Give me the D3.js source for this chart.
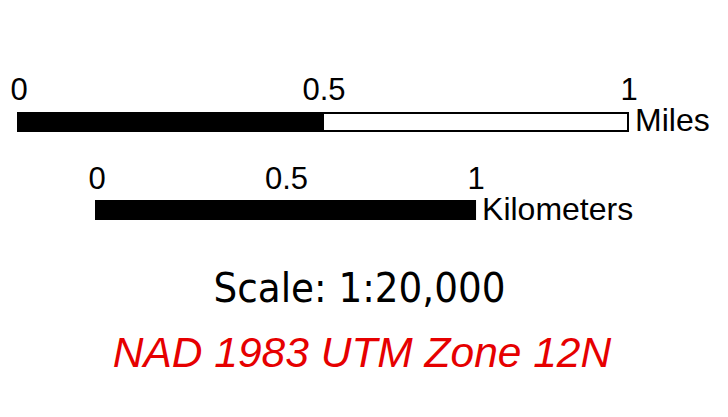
<!DOCTYPE html>
<html>
<head>
<meta charset="utf-8">
<script src="https://cdn.jsdelivr.net/npm/d3@7"></script>
<style>
  html, body { margin: 0; padding: 0; background: #fff; }
  svg { display: block; }
</style>
</head>
<body>
<svg id="chart" width="728" height="417"></svg>
<script>
// ---- data ----
const mileTicks = [0, 0.5, 1];
const mileTickLabels = ["0", "0.5", "1"];
const mileSegments = [[0, 0.5], [0.5, 1]];
const mileSegmentFills = ["black", "white"];
const kmTicks = [0, 0.5, 1];
const kmTickLabels = ["0", "0.5", "1"];
const kmSegments = [[0, 1]];
const kmSegmentFills = ["black"];
const kmPerMile = 1.609344;
const unitLabels = ["Miles", "Kilometers"];
const scaleText = "Scale: 1:20,000";
const projectionText = "NAD 1983 UTM Zone 12N";

// ---- drawing ----
const svg = d3.select("#chart");
const pxPerMile = 610;
const xMiles = d3.scaleLinear().domain([0, 1]).range([18, 18 + pxPerMile]);
const kmStart = 96;
const xKm = d3.scaleLinear().domain([0, 1]).range([kmStart, kmStart + pxPerMile / kmPerMile]);

const labelFont = "'Liberation Sans', Arial, sans-serif";

function drawBar(scale, segments, fills, ticks, labels, unit, barTop, labelBase, unitBase) {
  const g = svg.append("g");
  g.selectAll("rect.seg").data(segments).join("rect")
    .attr("class", "seg")
    .attr("x", d => scale(d[0]))
    .attr("y", barTop)
    .attr("width", d => scale(d[1]) - scale(d[0]))
    .attr("height", 18)
    .attr("fill", (d, i) => fills[i])
    .attr("stroke", "black")
    .attr("stroke-width", 2);
  g.selectAll("text.tick").data(ticks).join("text")
    .attr("class", "tick")
    .attr("x", d => scale(d) + 1)
    .attr("y", labelBase)
    .attr("text-anchor", "middle")
    .attr("font-family", labelFont)
    .attr("font-size", 31)
    .attr("fill", "black")
    .text((d, i) => labels[i]);
  g.append("text")
    .attr("x", scale.range()[1] + 7)
    .attr("y", unitBase)
    .attr("font-family", labelFont)
    .attr("font-size", 32)
    .attr("fill", "black")
    .text(unit);
}

drawBar(xMiles, mileSegments, mileSegmentFills, mileTicks, mileTickLabels, unitLabels[0], 113, 100, 131);
drawBar(xKm, kmSegments, kmSegmentFills, kmTicks, kmTickLabels, unitLabels[1], 201, 189, 220);

const st = svg.append("text")
  .attr("x", 359.5)
  .attr("y", 302)
  .attr("text-anchor", "middle")
  .attr("font-family", "'DejaVu Sans Condensed', 'DejaVu Sans', sans-serif")
  .attr("font-stretch", "condensed")
  .attr("font-size", 41)
  .attr("fill", "black")
  .text(scaleText);
const w = st.node().getComputedTextLength();
if (w > 0) st.attr("font-size", 41 * 292 / w);

svg.append("text")
  .attr("x", 362)
  .attr("y", 367)
  .attr("text-anchor", "middle")
  .attr("font-family", labelFont)
  .attr("font-style", "italic")
  .attr("font-size", 42.5)
  .attr("fill", "#e60000")
  .text(projectionText);
</script>
</body>
</html>
